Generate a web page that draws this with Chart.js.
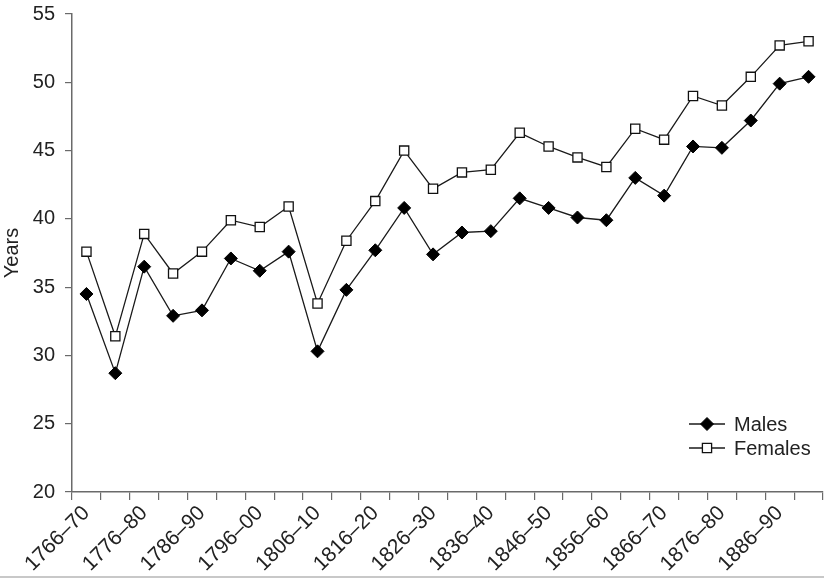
<!DOCTYPE html>
<html lang="en">
<head>
  <meta charset="UTF-8">
  <title>Life expectancy, males and females</title>
  <script src="https://cdn.jsdelivr.net/npm/chart.js@4.4.0/dist/chart.umd.min.js"></script>
  <style>
    html, body { margin: 0; padding: 0; background: #fff; }
    #wrap { position: relative; width: 824px; height: 579px; }
    #edge { position: absolute; left: 0; right: 0; top: 576px; height: 2px; background: #c8c8c8; }
  </style>
</head>
<body>
  <div id="wrap">
    <canvas id="lifeChart" width="824" height="579"></canvas>
    <div id="edge"></div>
  </div>

  <script>
    // five-year periods, 1766-70 .. 1891-95
    const periods = [
      '1766–70', '1771–75', '1776–80', '1781–85', '1786–90', '1791–95',
      '1796–00', '1801–05', '1806–10', '1811–15', '1816–20', '1821–25',
      '1826–30', '1831–35', '1836–40', '1841–45', '1846–50', '1851–55',
      '1856–60', '1861–65', '1866–70', '1871–75', '1876–80', '1881–85',
      '1886–90', '1891–95'
    ];

    const males = [
      34.5, 28.7, 36.5, 32.9, 33.3, 37.1, 36.2, 37.6, 30.3, 34.8, 37.7, 40.8, 37.4,
      39.0, 39.1, 41.5, 40.8, 40.1, 39.9, 43.0, 41.7, 45.3, 45.2, 47.2, 49.9, 50.4
    ];

    const females = [
      37.6, 31.4, 38.9, 36.0, 37.6, 39.9, 39.4, 40.9, 33.8, 38.4, 41.3, 45.0, 42.2,
      43.4, 43.6, 46.3, 45.3, 44.5, 43.8, 46.6, 45.8, 49.0, 48.3, 50.4, 52.7, 53.0
    ];

    const yTicks = [20, 25, 30, 35, 40, 45, 50, 55];

    const ink = '#1a1a1a';
    const axisGrey = '#6a6a6a';
    const font = 'Liberation Sans, Arial, Helvetica, sans-serif';

    // little legend in the lower right, drawn like the original (line + marker + name)
    const cornerLegend = {
      id: 'cornerLegend',
      afterDraw(chart) {
        const ctx = chart.ctx;
        const area = chart.chartArea;
        const x0 = area.right - 134;
        const rows = [area.bottom - 68, area.bottom - 44];
        chart.data.datasets.forEach((ds, i) => {
          const y = rows[i];
          ctx.save();
          ctx.strokeStyle = ds.borderColor;
          ctx.lineWidth = ds.borderWidth;
          ctx.beginPath();
          ctx.moveTo(x0, y);
          ctx.lineTo(x0 + 36, y);
          ctx.stroke();
          ctx.fillStyle = ds.pointBackgroundColor;
          ctx.strokeStyle = ds.pointBorderColor;
          ctx.lineWidth = ds.pointBorderWidth;
          Chart.helpers.drawPoint(ctx, {
            pointStyle: ds.pointStyle,
            radius: ds.pointRadius,
            borderWidth: ds.pointBorderWidth
          }, x0 + 18, y);
          ctx.fillStyle = '#222';
          ctx.font = '20px ' + font;
          ctx.textBaseline = 'middle';
          ctx.textAlign = 'left';
          ctx.fillText(ds.label, x0 + 45, y + 1);
          ctx.restore();
        });
      }
    };

    new Chart(document.getElementById('lifeChart'), {
      type: 'line',
      data: {
        labels: periods,
        datasets: [
          {
            label: 'Males',
            data: males,
            borderColor: ink,
            borderWidth: 1.3,
            pointStyle: 'rectRot',
            pointRadius: 6.5,
            pointBorderWidth: 1,
            pointBackgroundColor: '#000',
            pointBorderColor: '#000',
            tension: 0
          },
          {
            label: 'Females',
            data: females,
            borderColor: ink,
            borderWidth: 1.3,
            pointStyle: 'rect',
            pointRadius: 6.5,
            pointBorderWidth: 1.3,
            pointBackgroundColor: '#fff',
            pointBorderColor: '#111',
            tension: 0
          }
        ]
      },
      options: {
        responsive: false,
        animation: false,
        devicePixelRatio: 1,
        layout: {
          autoPadding: false,
          padding: { top: 14, right: 1, left: 0, bottom: 0 }
        },
        plugins: {
          legend: { display: false },
          tooltip: { enabled: false }
        },
        scales: {
          x: {
            type: 'category',
            offset: true,
            grid: {
              offset: true,
              drawOnChartArea: false,
              drawTicks: true,
              tickLength: 8,
              color: axisGrey,
              lineWidth: 1.2
            },
            border: { display: true, color: axisGrey, width: 1.5 },
            ticks: {
              autoSkip: false,
              minRotation: 45,
              maxRotation: 45,
              padding: 1,
              color: '#222',
              font: { family: font, size: 21 },
              callback: function (value, index) {
                return index % 2 === 0 ? periods[index] : '';
              }
            },
            afterFit(scale) {
              scale.height = 87;
              scale.paddingRight = 0;
              scale.paddingLeft = 0;
            }
          },
          y: {
            min: yTicks[0],
            max: yTicks[yTicks.length - 1],
            afterBuildTicks(scale) {
              scale.ticks = yTicks.map(v => ({ value: v }));
            },
            grid: {
              drawOnChartArea: false,
              drawTicks: true,
              tickLength: 7,
              color: axisGrey,
              lineWidth: 1.2
            },
            border: { display: true, color: axisGrey, width: 1.5 },
            ticks: {
              padding: 10,
              color: '#222',
              font: { family: font, size: 20 }
            },
            title: {
              display: true,
              text: 'Years',
              color: '#222',
              font: { family: font, size: 20 },
              padding: { top: 0, bottom: 0 }
            },
            afterFit(scale) {
              scale.width = 72;
              scale.paddingTop = 0;
              scale.paddingBottom = 0;
            }
          }
        }
      },
      plugins: [cornerLegend]
    });
  </script>
</body>
</html>
